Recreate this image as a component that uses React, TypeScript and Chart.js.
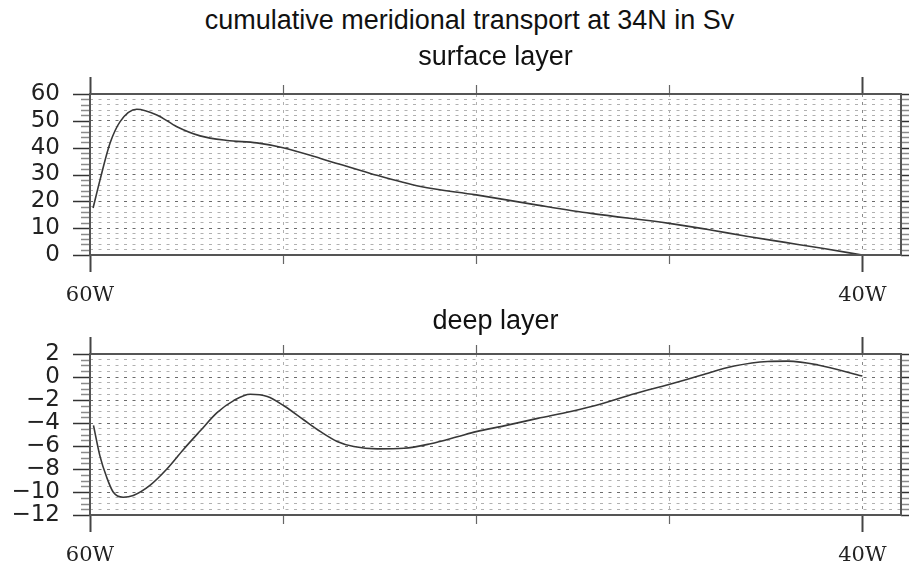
import { useEffect, useRef } from 'react';
import { Chart, registerables } from 'chart.js';

Chart.register(...registerables);

// x axis (longitude, negative = west)
const xTickLon = [-60, -55, -50, -45, -40];
const xLabelLon = [-60, -40];

// surface layer
const surfaceLon = [-59.92, -59.74, -59.48, -59.22, -58.79, -58.27, -57.75, -57.15, -56.45, -55.68, -55.0, -54.03, -52.74, -51.44, -50.0, -48.41, -47.03, -45.0, -44.0, -43.0, -42.0, -41.0, -40.0];
const surfaceSv = [17.5, 28, 41.7, 49.7, 54.3, 52.2, 47.8, 44.4, 42.7, 41.8, 40.0, 36.0, 30.4, 25.5, 22.4, 18.6, 15.5, 11.8, 9.5, 7.0, 4.7, 2.4, 0];

// deep layer
const deepLon = [-59.91, -59.74, -59.57, -59.4, -59.14, -58.88, -58.44, -58.01, -57.58, -57.15, -56.71, -56.28, -55.85, -55.41, -54.98, -54.46, -54.03, -53.6, -53.17, -52.56, -51.87, -51.18, -50.49, -50.0, -49.28, -48.41, -47.55, -46.77, -45.9, -45.01, -44.18, -43.32, -42.45, -41.93, -41.15, -40.0];
const deepSv = [-4.2, -6.9, -8.7, -10.0, -10.45, -10.3, -9.4, -8.0, -6.3, -4.7, -3.1, -2.05, -1.5, -1.7, -2.5, -3.74, -4.75, -5.6, -6.05, -6.25, -6.2, -5.8, -5.2, -4.75, -4.25, -3.6, -3.0, -2.35, -1.45, -0.65, 0.15, 0.95, 1.35, 1.38, 1.05, 0.08];

const TITLE = 'cumulative meridional transport at 34N in Sv';
const SUB_TOP = 'surface layer';
const SUB_BOT = 'deep layer';

const SANS = '"Liberation Sans", Arial, Helvetica, sans-serif';

const decorPlugin = {
  id: 'decor',
  afterDraw(chart: any) {
    const { ctx, chartArea: a, scales } = chart;
    const xs = scales.x;
    const ys = scales.y;
    const seg = (x1: number, y1: number, x2: number, y2: number) => {
      ctx.beginPath();
      ctx.moveTo(x1, y1);
      ctx.lineTo(x2, y2);
      ctx.stroke();
    };
    ctx.save();
    ctx.lineCap = 'butt';
    ys.ticks.forEach((t: any) => {
      const p = Math.round(ys.getPixelForValue(t.value)) + 0.5;
      const major = t.label !== '';
      ctx.strokeStyle = major ? '#333' : '#8a8a8a';
      ctx.lineWidth = 1.5;
      const L = major ? 17 : 9;
      seg(a.left - L, p, a.left, p);
      seg(a.right, p, a.right + L, p);
    });
    xs.ticks.forEach((t: any) => {
      const p = Math.round(xs.getPixelForValue(t.value)) + 0.5;
      const major = t.label !== '';
      ctx.strokeStyle = major ? '#444' : '#666';
      ctx.lineWidth = major ? 2 : 1.2;
      const L = major ? 17 : 9;
      seg(p, a.top - L, p, a.top);
      seg(p, a.bottom, p, a.bottom + L);
    });
    ctx.strokeStyle = '#555';
    ctx.lineWidth = 2;
    ctx.strokeRect(a.left, a.top, a.right - a.left, a.bottom - a.top);
    ctx.restore();
  },
};

function buildConfig(
  lon: number[],
  vals: number[],
  yMin: number,
  yMax: number,
  yStep: number,
  isMajor: (v: number) => boolean,
  subtitle: string,
  padTop: number,
  padBottom: number,
  xHeight: number
): any {
  return {
    type: 'line',
    data: {
      datasets: [
        {
          data: lon.map((x, i) => ({ x, y: vals[i] })),
          borderColor: '#383838',
          borderWidth: 1.6,
          pointRadius: 0,
          fill: false,
          cubicInterpolationMode: 'monotone',
        },
      ],
    },
    options: {
      responsive: false,
      animation: false,
      layout: { padding: { left: 0, right: 8, top: 0, bottom: 0 } },
      plugins: {
        legend: { display: false },
        tooltip: { enabled: false },
        title: {
          display: true,
          text: subtitle,
          fullSize: false,
          color: '#111',
          font: { family: SANS, size: 27, weight: 'normal' },
          padding: { top: padTop, bottom: padBottom },
        },
      },
      scales: {
        x: {
          type: 'linear',
          min: -60,
          max: -39,
          afterBuildTicks: (s: any) => {
            s.ticks = xTickLon.map((value) => ({ value }));
          },
          afterFit: (s: any) => {
            s.height = xHeight;
          },
          grid: {
            drawOnChartArea: true,
            drawTicks: true,
            tickLength: 28,
            tickColor: 'rgba(0,0,0,0)',
            lineWidth: 1,
            color: (c: any) =>
              c.tick && c.tick.value === -60 ? 'rgba(0,0,0,0)' : c.tick && c.tick.value === -40 ? '#8a8a8a' : '#b0b0b0',
          },
          border: { display: false, dash: [3, 5] },
          ticks: {
            autoSkip: false,
            maxRotation: 0,
            padding: 0,
            color: '#222',
            font: { family: '"DejaVu Serif", serif', size: 21 },
            callback: (v: any) => (xLabelLon.includes(Number(v)) ? `${-Number(v)}W` : ''),
          },
        },
        y: {
          type: 'linear',
          min: yMin,
          max: yMax,
          afterFit: (s: any) => {
            s.width = 90;
          },
          grid: {
            drawTicks: false,
            lineWidth: 1,
            color: (c: any) => (c.tick && isMajor(c.tick.value) ? '#6a6a6a' : '#b0b0b0'),
          },
          border: { display: false, dash: [3, 5.5] },
          ticks: {
            stepSize: yStep,
            autoSkip: false,
            padding: 30,
            color: '#222',
            font: { family: '"DejaVu Sans", sans-serif', size: 23 },
            callback: (v: any) => {
              const n = Number(v);
              if (!isMajor(n)) return '';
              return n < 0 ? `\u2212${-n}` : `${n}`;
            },
          },
        },
      },
    },
    plugins: [decorPlugin],
  };
}

export default function App() {
  const topRef = useRef<HTMLCanvasElement>(null);
  const botRef = useRef<HTMLCanvasElement>(null);

  useEffect(() => {
    const c1 = new Chart(
      topRef.current as HTMLCanvasElement,
      buildConfig(surfaceLon, surfaceSv, 0, 60, 2, (v) => Math.abs(v % 10) < 1e-9, SUB_TOP, 11.3, 20.3, 60)
    );
    const c2 = new Chart(
      botRef.current as HTMLCanvasElement,
      buildConfig(deepLon, deepSv, -12, 2, 0.5, (v) => Number.isInteger(v) && v % 2 === 0, SUB_BOT, 0.3, 16.3, 56)
    );
    return () => {
      c1.destroy();
      c2.destroy();
    };
  }, []);

  return (
    <div
      style={{
        position: 'absolute',
        left: 0,
        top: 0,
        width: 909,
        height: 571,
        overflow: 'hidden',
        background: '#fff',
      }}
    >
      <div
        style={{
          position: 'absolute',
          left: 469.5,
          top: 7,
          transform: 'translateX(-50%)',
          whiteSpace: 'nowrap',
          fontFamily: SANS,
          fontSize: 27,
          lineHeight: '27px',
          color: '#111',
        }}
      >
        {TITLE}
      </div>
      <canvas ref={topRef} width={909} height={285} style={{ position: 'absolute', left: 0, top: 30 }} />
      <canvas ref={botRef} width={909} height={266} style={{ position: 'absolute', left: 0, top: 305 }} />
    </div>
  );
}
